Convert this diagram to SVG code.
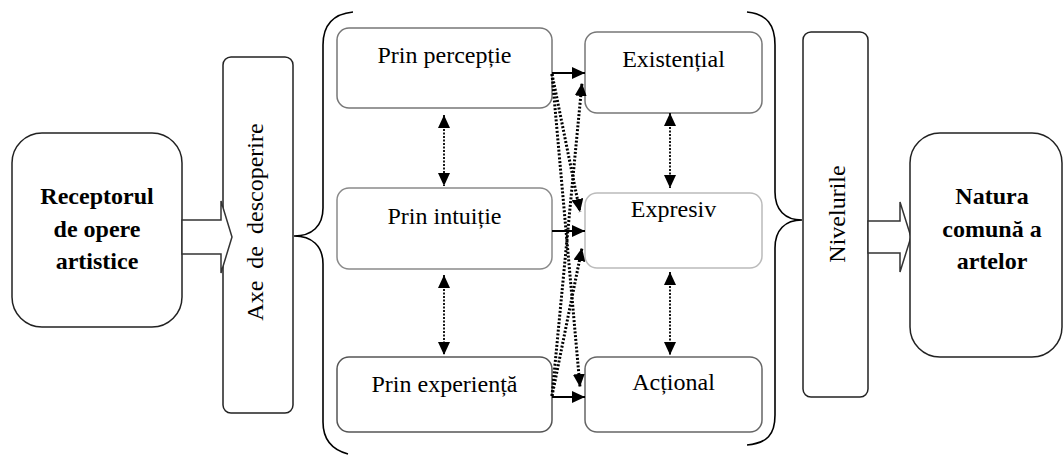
<svg xmlns="http://www.w3.org/2000/svg" width="1064" height="456" viewBox="0 0 1064 456">
<style>
.t{font-family:"Liberation Serif","Times New Roman",serif;font-size:24px;fill:#000;text-anchor:middle}
.b{font-weight:bold}
.main{fill:#fff;stroke:#222;stroke-width:1.5}
.box{fill:#fff;stroke-width:1.5}
.solid{stroke:#000;stroke-width:2.2;fill:none}
.dot{stroke:#000;stroke-width:3;stroke-dasharray:2 1.8;fill:none}
.vdot{stroke:#000;stroke-width:1.8;stroke-dasharray:2 1.5;fill:none}
.brace{fill:none;stroke:#000;stroke-width:1.6}
.blk{fill:#fff;stroke:#333;stroke-width:1.5}
</style>
<defs>
<marker id="ah" viewBox="0 0 13 12" refX="13" refY="6" markerWidth="13" markerHeight="12" markerUnits="userSpaceOnUse" orient="auto-start-reverse">
<path d="M0,0 L13,6 L0,12 z" fill="#000"/>
</marker>
</defs>

<g id="receptor">
<rect class="main" x="12" y="133" width="170" height="194" rx="30"/>
<text class="t b" x="97" y="204">Receptorul</text>
<text class="t b" x="97" y="237">de opere</text>
<text class="t b" x="97" y="269">artistice</text>
</g>

<g id="axe">
<rect class="main" x="223" y="57" width="70" height="356" rx="8"/>
<text class="t" style="white-space:pre" transform="translate(263,222) rotate(-90)" x="0" y="0">Axe  de  descoperire</text>
</g>

<g id="arrow-left">
<polygon class="blk" points="182,220 221,220 221,201 232,237 221,273 221,254 182,254"/>
</g>

<g id="brace-left">
<path class="brace" d="M353,12 C333,14 323,25 323,45 L323,208 C323,226 312,236 294,236 C312,236 323,246 323,264 L323,422 C323,440 333,450 348,454"/>
</g>

<g id="prin-perceptie">
<rect class="box" style="stroke:#777" x="337" y="28" width="215" height="80" rx="12"/>
<text class="t" x="444.5" y="63">Prin percepție</text>
</g>
<g id="prin-intuitie">
<rect class="box" style="stroke:#8a8a8a" x="337" y="188" width="215" height="81" rx="12"/>
<text class="t" x="444.5" y="224">Prin intuiție</text>
</g>
<g id="prin-experienta">
<rect class="box" style="stroke:#555" x="337" y="357" width="215" height="75" rx="12"/>
<text class="t" x="444.5" y="392">Prin experiență</text>
</g>

<g id="existential">
<rect class="box" style="stroke:#777" x="585" y="32" width="177" height="81" rx="12"/>
<text class="t" x="673.5" y="67">Existențial</text>
</g>
<g id="expresiv">
<rect class="box" style="stroke:#bbb" x="585" y="193" width="177" height="75" rx="12"/>
<text class="t" x="673.5" y="217">Expresiv</text>
</g>
<g id="actional">
<rect class="box" style="stroke:#666" x="585" y="357" width="177" height="75" rx="12"/>
<text class="t" x="673.5" y="390">Acțional</text>
</g>

<g id="brace-right">
<path class="brace" d="M747,12 C767,14 775,25 775,45 L775,192 C775,210 785,220 802,220 C785,220 775,230 775,248 L775,415 C775,435 767,443 747,445"/>
</g>

<g id="niveluri">
<rect class="main" x="803" y="32" width="65" height="365" rx="8"/>
<text class="t" transform="translate(845,214) rotate(-90)" x="0" y="0">Nivelurile</text>
</g>

<g id="arrow-right">
<polygon class="blk" points="868,221 900,221 900,202 911,237 900,272 900,253 868,253"/>
</g>

<g id="natura">
<rect class="main" x="910" y="133" width="152" height="224" rx="30"/>
<text class="t b" x="992" y="204">Natura</text>
<text class="t b" x="992" y="237">comună a</text>
<text class="t b" x="992" y="269">artelor</text>
</g>

<g id="connectors">
<line class="solid" x1="552" y1="73" x2="585" y2="73" marker-end="url(#ah)"/>
<line class="solid" x1="552" y1="231" x2="585" y2="231" marker-end="url(#ah)"/>
<line class="solid" x1="552" y1="397" x2="585" y2="397" marker-end="url(#ah)"/>
<line class="dot" x1="552" y1="74" x2="580" y2="212" marker-end="url(#ah)"/>
<line class="dot" x1="552" y1="74" x2="580" y2="387" marker-end="url(#ah)"/>
<line class="dot" x1="552" y1="396" x2="582" y2="83" marker-end="url(#ah)"/>
<line class="dot" x1="552" y1="396" x2="582" y2="248" marker-end="url(#ah)"/>
<line class="vdot" x1="444" y1="115" x2="444" y2="186" marker-start="url(#ah)" marker-end="url(#ah)"/>
<line class="vdot" x1="444" y1="275" x2="444" y2="355" marker-start="url(#ah)" marker-end="url(#ah)"/>
<line class="vdot" x1="670" y1="113" x2="670" y2="188" marker-start="url(#ah)" marker-end="url(#ah)"/>
<line class="vdot" x1="670" y1="272" x2="670" y2="355" marker-start="url(#ah)" marker-end="url(#ah)"/>
</g>
</svg>
